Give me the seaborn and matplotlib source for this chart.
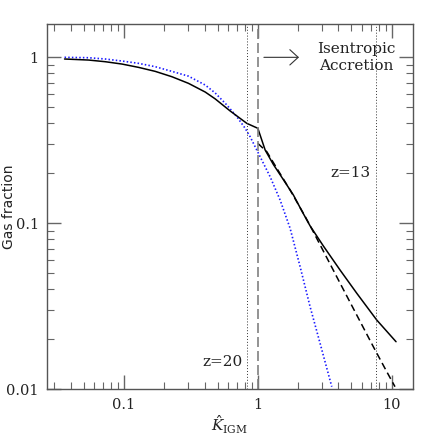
import numpy as np
import pandas as pd
import matplotlib
matplotlib.use("Agg")
import matplotlib.pyplot as plt
import matplotlib.ticker as mticker
import seaborn as sns

# ---- data ----
solid_x = [0.0360, 0.0544, 0.0725, 0.0966, 0.1285, 0.1713, 0.2282, 0.3034, 0.4044, 0.4801,
           0.6215, 0.828, 1.0,
           1.134, 1.307, 1.553, 1.844, 2.15, 2.456, 3.087, 4.113, 5.482, 7.727, 10.77]
solid_y = [0.977, 0.963, 0.941, 0.911, 0.870, 0.823, 0.764, 0.697, 0.618, 0.562,
           0.475, 0.400, 0.3736,
           0.2764, 0.226, 0.183, 0.148, 0.1172, 0.0965, 0.0730, 0.0523, 0.0379, 0.02615, 0.01935]

dash_x = [1.0, 1.167, 1.386, 1.742, 2.254, 2.529, 3.087, 4.113, 5.482, 7.29, 9.18, 10.58]
dash_y = [0.303, 0.270, 0.2145, 0.1587, 0.1101, 0.0926, 0.0680, 0.0436, 0.0280, 0.01805, 0.01277, 0.01037]

blue_x = [0.0360, 0.0544, 0.0725, 0.0966, 0.1285, 0.1713, 0.2282, 0.3034, 0.4044, 0.4801,
          0.587, 0.697, 0.804, 0.876, 1.040, 1.235, 1.467, 1.742, 2.069, 2.456, 2.917, 3.567]
blue_y = [1.0, 0.9945, 0.977, 0.950, 0.920, 0.878, 0.823, 0.770, 0.681, 0.610,
          0.516, 0.4386, 0.3736, 0.3323, 0.2519, 0.1909, 0.1381, 0.0933, 0.0548, 0.03146, 0.01892, 0.01037]

vline_dotted = [0.836, 7.68]
vline_dashed = [1.0]

x_ticks = [0.1, 1, 10]
x_ticklabels = ["0.1", "1", "10"]
y_ticks = [0.01, 0.1, 1]
y_ticklabels = ["0.01", "0.1", "1"]

xlim = (0.02662, 14.35)
ylim = (0.01, 1.594)

# ---- style ----
sns.set_style("ticks")
plt.rcParams["font.family"] = ["DejaVu Serif"]
plt.rcParams["mathtext.fontset"] = "dejavuserif"

fig = plt.figure(figsize=(4.36, 4.36), dpi=100)
ax = fig.add_axes([0.1078, 0.1071, 0.9466 - 0.1078, 0.9456 - 0.1071])

df_s = pd.DataFrame({"x": solid_x, "y": solid_y})
df_d = pd.DataFrame({"x": dash_x, "y": dash_y})
df_b = pd.DataFrame({"x": blue_x, "y": blue_y})

sns.lineplot(data=df_b, x="x", y="y", ax=ax, sort=False, estimator=None,
             color="#1a1aff", lw=1.2)
ax.lines[-1].set_dashes((0.9, 1.3))
sns.lineplot(data=df_d, x="x", y="y", ax=ax, sort=False, estimator=None,
             color="black", lw=1.1)
ax.lines[-1].set_dashes((4.6, 2.6))
sns.lineplot(data=df_s, x="x", y="y", ax=ax, sort=False, estimator=None,
             color="black", lw=1.1)

for xv in vline_dotted:
    l = ax.axvline(xv, color="#333333", lw=0.7)
    l.set_dashes((1, 2))
for xv in vline_dashed:
    l = ax.axvline(xv, color="#808080", lw=1.2)
    l.set_dashes((6, 2.4))

ax.set_xscale("log")
ax.set_yscale("log")
ax.set_xlim(*xlim)
ax.set_ylim(*ylim)

ax.xaxis.set_major_locator(mticker.FixedLocator(x_ticks))
ax.xaxis.set_major_formatter(mticker.FixedFormatter(x_ticklabels))
ax.yaxis.set_major_locator(mticker.FixedLocator(y_ticks))
ax.yaxis.set_major_formatter(mticker.FixedFormatter(y_ticklabels))
ax.xaxis.set_minor_locator(mticker.LogLocator(base=10, subs=np.arange(2, 10), numticks=20))
ax.yaxis.set_minor_locator(mticker.LogLocator(base=10, subs=np.arange(2, 10), numticks=20))
ax.xaxis.set_minor_formatter(mticker.NullFormatter())
ax.yaxis.set_minor_formatter(mticker.NullFormatter())

ax.tick_params(which="both", direction="in", top=True, right=True, color="#666666")
ax.tick_params(which="major", length=10, width=1.0, labelsize=10.5, pad=6, labelcolor="#222222")
ax.tick_params(which="minor", length=5, width=0.8)
for sp in ax.spines.values():
    sp.set_color("#555555")
    sp.set_linewidth(1.0)

ax.set_xlabel(r"$\hat{K}_{\rm IGM}$", fontsize=11, color="#222222")
ax.xaxis.set_label_coords(0.5, -0.068)
ax.set_ylabel("Gas fraction", fontsize=10, family="DejaVu Sans", color="#222222")
ax.yaxis.set_label_coords(-0.086, 0.5)

ax.annotate("", xy=(2.03, 1.0), xytext=(1.11, 1.0),
            arrowprops=dict(arrowstyle="->,head_length=0.6,head_width=0.55",
                            color="#333333", lw=0.8, shrinkA=0, shrinkB=0))
ax.text(5.42, 1.0, "Isentropic\nAccretion", ha="center", va="center",
        fontsize=11, color="#222222", linespacing=1.25)
ax.text(4.88, 0.201, "z=13", ha="center", va="center", fontsize=11, color="#222222")
ax.text(0.542, 0.01466, "z=20", ha="center", va="center", fontsize=11, color="#222222")

fig.savefig("out.png", dpi=100)
